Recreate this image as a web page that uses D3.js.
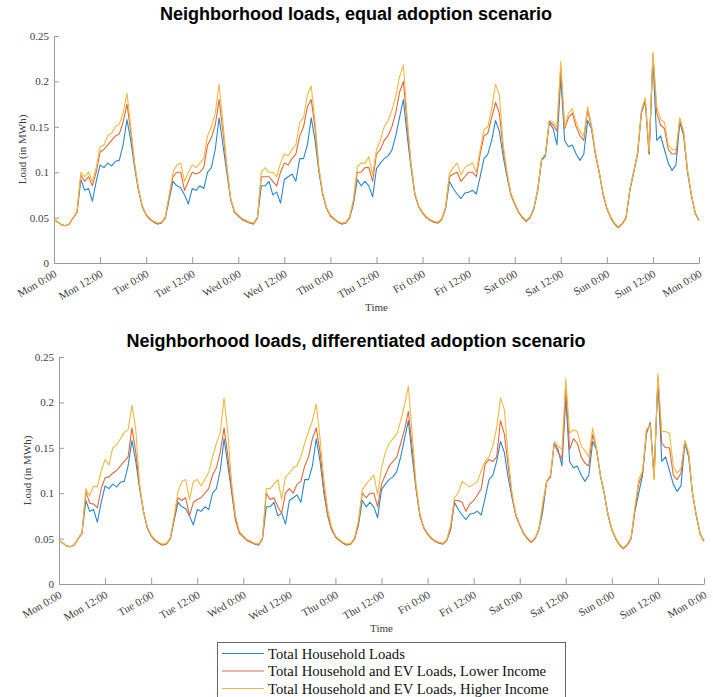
<!DOCTYPE html>
<html>
<head>
<meta charset="utf-8">
<script src="https://cdn.jsdelivr.net/npm/d3@7"></script>
<style>
  body { margin: 0; background: #fff; }
  .axis path, .axis line { stroke: #9a9a9a; }
  .axis text { font-family: 'Liberation Serif', 'Times New Roman', serif; font-size: 11px; fill: #404040; }
  .chart-title { font-family: 'Liberation Sans', Arial, sans-serif; font-size: 18px; font-weight: bold; fill: #000; }
  .axis-label { font-family: 'Liberation Serif', 'Times New Roman', serif; font-size: 11px; fill: #404040; }
  .legend text { font-family: 'Liberation Serif', 'Times New Roman', serif; font-size: 14.7px; fill: #111; }
</style>
</head>
<body>
<svg id="chart" width="713" height="697"></svg>
<script>
// x tick labels, one every 12 hours
const tickLabels = ['Mon 0:00', 'Mon 12:00', 'Tue 0:00', 'Tue 12:00', 'Wed 0:00', 'Wed 12:00', 'Thu 0:00',
  'Thu 12:00', 'Fri 0:00', 'Fri 12:00', 'Sat 0:00', 'Sat 12:00', 'Sun 0:00', 'Sun 12:00', 'Mon 0:00'];
const yTicks = [0, 0.05, 0.1, 0.15, 0.2, 0.25];
const seriesNames = ['Total Household Loads', 'Total Household and EV Loads, Lower Income',
  'Total Household and EV Loads, Higher Income'];

// hourly loads in MWh, Mon 0:00 .. next Mon 0:00 (169 values)
const householdLoad = [
  0.048, 0.045, 0.042, 0.041, 0.043, 0.050, 0.056, 0.092, 0.080, 0.082, 0.068, 0.090,
  0.108, 0.105, 0.110, 0.107, 0.112, 0.113, 0.130, 0.158, 0.135, 0.105, 0.080, 0.062,
  0.053, 0.048, 0.045, 0.043, 0.044, 0.050, 0.070, 0.090, 0.085, 0.083, 0.075, 0.065,
  0.082, 0.080, 0.085, 0.082, 0.100, 0.105, 0.125, 0.160, 0.130, 0.100, 0.070, 0.056,
  0.052, 0.048, 0.046, 0.044, 0.043, 0.050, 0.085, 0.085, 0.090, 0.075, 0.078, 0.066,
  0.092, 0.095, 0.098, 0.090, 0.115, 0.115, 0.130, 0.160, 0.135, 0.100, 0.075, 0.060,
  0.052, 0.048, 0.045, 0.043, 0.044, 0.050, 0.065, 0.092, 0.085, 0.090, 0.085, 0.073,
  0.104, 0.110, 0.115, 0.118, 0.124, 0.140, 0.160, 0.180, 0.140, 0.105, 0.075, 0.062,
  0.055, 0.050, 0.047, 0.045, 0.044, 0.048, 0.060, 0.090, 0.082, 0.076, 0.071, 0.077,
  0.078, 0.080, 0.076, 0.095, 0.115, 0.120, 0.135, 0.157, 0.145, 0.117, 0.095, 0.075,
  0.065, 0.056, 0.050, 0.046, 0.050, 0.060, 0.080, 0.113, 0.118, 0.155, 0.148, 0.130,
  0.205, 0.135, 0.128, 0.130, 0.120, 0.113, 0.120, 0.157, 0.148, 0.120, 0.100, 0.076,
  0.060, 0.050, 0.043, 0.039, 0.043, 0.050, 0.080, 0.100, 0.120, 0.165, 0.178, 0.120,
  0.225, 0.135, 0.140, 0.125, 0.110, 0.102, 0.108, 0.155, 0.140, 0.100, 0.075, 0.055,
  0.047
];

// equal adoption scenario
const evLowerEqual = [
  0.048, 0.045, 0.042, 0.041, 0.043, 0.050, 0.056, 0.097, 0.090, 0.095, 0.085, 0.100,
  0.122, 0.125, 0.130, 0.135, 0.140, 0.142, 0.155, 0.175, 0.145, 0.108, 0.081, 0.062,
  0.053, 0.048, 0.045, 0.043, 0.044, 0.050, 0.073, 0.095, 0.100, 0.100, 0.080, 0.090,
  0.100, 0.098, 0.100, 0.105, 0.130, 0.138, 0.152, 0.180, 0.145, 0.105, 0.071, 0.056,
  0.052, 0.048, 0.046, 0.044, 0.043, 0.050, 0.095, 0.095, 0.095, 0.090, 0.085, 0.100,
  0.110, 0.108, 0.115, 0.120, 0.140, 0.150, 0.172, 0.180, 0.148, 0.103, 0.076, 0.060,
  0.052, 0.048, 0.045, 0.043, 0.044, 0.050, 0.068, 0.100, 0.100, 0.105, 0.105, 0.090,
  0.120, 0.125, 0.135, 0.140, 0.150, 0.165, 0.188, 0.200, 0.152, 0.108, 0.076, 0.062,
  0.055, 0.050, 0.047, 0.045, 0.044, 0.048, 0.061, 0.095, 0.098, 0.100, 0.090, 0.095,
  0.100, 0.100, 0.095, 0.120, 0.140, 0.143, 0.160, 0.177, 0.165, 0.125, 0.098, 0.076,
  0.065, 0.056, 0.050, 0.046, 0.050, 0.060, 0.081, 0.114, 0.120, 0.156, 0.152, 0.145,
  0.215, 0.148, 0.160, 0.165, 0.150, 0.140, 0.135, 0.168, 0.150, 0.121, 0.100, 0.076,
  0.060, 0.050, 0.043, 0.039, 0.043, 0.050, 0.081, 0.100, 0.121, 0.167, 0.180, 0.120,
  0.230, 0.165, 0.152, 0.148, 0.125, 0.120, 0.120, 0.158, 0.143, 0.102, 0.075, 0.055,
  0.047
];
const evHigherEqual = [
  0.048, 0.045, 0.042, 0.041, 0.043, 0.050, 0.057, 0.100, 0.095, 0.100, 0.090, 0.105,
  0.128, 0.130, 0.140, 0.143, 0.150, 0.153, 0.165, 0.187, 0.150, 0.110, 0.082, 0.063,
  0.054, 0.049, 0.046, 0.044, 0.045, 0.051, 0.075, 0.100, 0.108, 0.110, 0.090, 0.100,
  0.108, 0.105, 0.110, 0.115, 0.140, 0.150, 0.165, 0.197, 0.155, 0.108, 0.072, 0.057,
  0.053, 0.049, 0.047, 0.045, 0.044, 0.051, 0.100, 0.105, 0.100, 0.100, 0.095, 0.110,
  0.120, 0.118, 0.125, 0.130, 0.155, 0.160, 0.185, 0.195, 0.155, 0.105, 0.077, 0.061,
  0.053, 0.049, 0.046, 0.044, 0.045, 0.051, 0.070, 0.106, 0.110, 0.110, 0.117, 0.097,
  0.125, 0.135, 0.150, 0.157, 0.168, 0.183, 0.205, 0.218, 0.160, 0.110, 0.077, 0.063,
  0.056, 0.051, 0.048, 0.046, 0.045, 0.049, 0.062, 0.099, 0.105, 0.110, 0.097, 0.105,
  0.108, 0.110, 0.100, 0.125, 0.147, 0.150, 0.170, 0.197, 0.185, 0.130, 0.100, 0.077,
  0.066, 0.057, 0.051, 0.047, 0.051, 0.061, 0.082, 0.115, 0.120, 0.157, 0.155, 0.150,
  0.222, 0.150, 0.165, 0.170, 0.155, 0.145, 0.140, 0.172, 0.152, 0.122, 0.101, 0.077,
  0.061, 0.051, 0.044, 0.040, 0.044, 0.051, 0.082, 0.101, 0.122, 0.168, 0.182, 0.123,
  0.232, 0.172, 0.158, 0.155, 0.130, 0.125, 0.125, 0.160, 0.145, 0.103, 0.076, 0.056,
  0.048
];

// differentiated adoption scenario
const evLowerDiff = [
  0.048, 0.045, 0.042, 0.041, 0.043, 0.050, 0.056, 0.102, 0.089, 0.088, 0.084, 0.105,
  0.117, 0.118, 0.122, 0.125, 0.130, 0.135, 0.140, 0.172, 0.145, 0.107, 0.080, 0.062,
  0.053, 0.048, 0.045, 0.043, 0.044, 0.050, 0.072, 0.095, 0.092, 0.095, 0.075, 0.090,
  0.093, 0.095, 0.100, 0.105, 0.120, 0.128, 0.145, 0.172, 0.140, 0.103, 0.070, 0.056,
  0.052, 0.048, 0.046, 0.044, 0.043, 0.050, 0.100, 0.093, 0.095, 0.085, 0.078, 0.100,
  0.105, 0.100, 0.110, 0.113, 0.130, 0.140, 0.160, 0.172, 0.145, 0.105, 0.076, 0.060,
  0.052, 0.048, 0.045, 0.043, 0.044, 0.050, 0.067, 0.100, 0.095, 0.100, 0.100, 0.085,
  0.110, 0.120, 0.130, 0.135, 0.140, 0.155, 0.170, 0.190, 0.150, 0.105, 0.076, 0.062,
  0.055, 0.050, 0.047, 0.045, 0.044, 0.048, 0.061, 0.092, 0.092, 0.090, 0.080, 0.088,
  0.092, 0.098, 0.105, 0.132, 0.137, 0.135, 0.140, 0.180, 0.165, 0.130, 0.097, 0.076,
  0.065, 0.056, 0.050, 0.046, 0.050, 0.060, 0.085, 0.112, 0.118, 0.155, 0.145, 0.138,
  0.215, 0.148, 0.160, 0.155, 0.140, 0.133, 0.130, 0.165, 0.148, 0.120, 0.100, 0.076,
  0.060, 0.050, 0.043, 0.039, 0.043, 0.050, 0.082, 0.110, 0.122, 0.168, 0.176, 0.116,
  0.228, 0.155, 0.150, 0.150, 0.120, 0.115, 0.122, 0.157, 0.143, 0.100, 0.075, 0.055,
  0.047
];
const evHigherDiff = [
  0.048, 0.045, 0.042, 0.041, 0.043, 0.050, 0.057, 0.105, 0.097, 0.108, 0.107, 0.125,
  0.137, 0.131, 0.150, 0.153, 0.160, 0.167, 0.170, 0.197, 0.170, 0.110, 0.080, 0.063,
  0.054, 0.049, 0.046, 0.044, 0.045, 0.051, 0.075, 0.102, 0.113, 0.115, 0.093, 0.113,
  0.115, 0.108, 0.115, 0.123, 0.140, 0.155, 0.167, 0.205, 0.165, 0.110, 0.075, 0.058,
  0.053, 0.049, 0.047, 0.045, 0.044, 0.051, 0.105, 0.105, 0.110, 0.115, 0.093, 0.118,
  0.122, 0.128, 0.130, 0.140, 0.155, 0.168, 0.180, 0.198, 0.160, 0.115, 0.082, 0.063,
  0.053, 0.049, 0.046, 0.044, 0.045, 0.051, 0.070, 0.104, 0.110, 0.115, 0.120, 0.098,
  0.128, 0.145, 0.155, 0.160, 0.165, 0.180, 0.197, 0.218, 0.165, 0.110, 0.078, 0.063,
  0.056, 0.051, 0.048, 0.046, 0.045, 0.049, 0.065, 0.095, 0.100, 0.113, 0.110, 0.107,
  0.110, 0.113, 0.125, 0.135, 0.140, 0.152, 0.172, 0.205, 0.192, 0.140, 0.100, 0.077,
  0.066, 0.057, 0.051, 0.047, 0.051, 0.061, 0.090, 0.113, 0.120, 0.157, 0.152, 0.148,
  0.226, 0.166, 0.170, 0.168, 0.152, 0.147, 0.140, 0.172, 0.150, 0.120, 0.101, 0.077,
  0.061, 0.051, 0.044, 0.040, 0.044, 0.051, 0.085, 0.115, 0.125, 0.170, 0.175, 0.115,
  0.232, 0.168, 0.168, 0.166, 0.130, 0.122, 0.127, 0.158, 0.145, 0.100, 0.076, 0.056,
  0.048
];

const lineColors = ['#2c86cc', '#df6a3c', '#efb943']; // blue, orange, yellow

class LoadChart {
  constructor(_config, _data) {
    this.config = _config;
    this.data = _data; // array of series (arrays of hourly values)
    this.initVis();
  }

  initVis() {
    let vis = this;

    vis.width = vis.config.width;
    vis.height = vis.config.height;

    vis.svg = d3.select(vis.config.parentElement)
      .append('g')
      .attr('transform', `translate(${vis.config.left},${vis.config.top})`);

    vis.xScale = d3.scaleLinear().domain([0, (tickLabels.length - 1) * 12]).range([0, vis.width]);
    vis.yScale = d3.scaleLinear().domain([0, 0.25]).range([vis.height, 0]);

    vis.xAxis = vis.svg.append('g')
      .attr('class', 'axis x-axis')
      .attr('transform', `translate(0,${vis.height})`);
    vis.yAxis = vis.svg.append('g').attr('class', 'axis y-axis');

    // title
    vis.svg.append('text')
      .attr('class', 'chart-title')
      .attr('x', vis.config.titleX - vis.config.left)
      .attr('y', vis.config.titleY - vis.config.top)
      .attr('text-anchor', 'middle')
      .text(vis.config.title);

    vis.svg.append('text')
      .attr('class', 'axis-label')
      .attr('x', vis.width / 2)
      .attr('y', vis.height + 48)
      .attr('text-anchor', 'middle')
      .text('Time');

    vis.svg.append('text')
      .attr('class', 'axis-label')
      .attr('x', -vis.height / 2)
      .attr('y', -28)
      .attr('text-anchor', 'middle')
      .attr('transform', 'rotate(-90)')
      .text('Load (in MWh)');

    vis.updateVis();
  }

  updateVis() {
    let vis = this;

    vis.xAxis.call(d3.axisBottom(vis.xScale)
      .tickValues(tickLabels.map((d, i) => i * 12))
      .tickFormat((d, i) => tickLabels[i])
      .tickSizeInner(-6)
      .tickSizeOuter(0));
    vis.xAxis.selectAll('text')
      .attr('x', 0)
      .attr('y', 0)
      .attr('dy', 0)
      .attr('text-anchor', 'end')
      .attr('transform', 'translate(3,13) rotate(-30)');

    vis.yAxis.call(d3.axisLeft(vis.yScale)
      .tickValues(yTicks)
      .tickFormat(d => String(d))
      .tickSizeInner(-5)
      .tickSizeOuter(0)
      .tickPadding(5));

    const line = d3.line()
      .x((d, i) => vis.xScale(i))
      .y(d => vis.yScale(d));

    vis.svg.selectAll('.load-line')
      .data(vis.data)
      .join('path')
      .attr('class', 'load-line')
      .attr('fill', 'none')
      .attr('stroke', (d, i) => lineColors[i])
      .attr('stroke-width', 1.1)
      .attr('stroke-linejoin', 'round')
      .attr('d', line);
  }
}

new LoadChart({
  parentElement: '#chart',
  title: 'Neighborhood loads, equal adoption scenario',
  left: 54, top: 36, width: 645, height: 227,
  titleX: 356, titleY: 20
}, [householdLoad, evLowerEqual, evHigherEqual]);

new LoadChart({
  parentElement: '#chart',
  title: 'Neighborhood loads, differentiated adoption scenario',
  left: 59, top: 357, width: 645, height: 227,
  titleX: 356, titleY: 346.5
}, [householdLoad, evLowerDiff, evHigherDiff]);

// legend
const legend = d3.select('#chart').append('g').attr('class', 'legend');
legend.append('rect')
  .attr('x', 217.5).attr('y', 642.5)
  .attr('width', 348).attr('height', 60)
  .attr('fill', '#fff').attr('stroke', '#666');
seriesNames.forEach((name, i) => {
  const y = 653.5 + i * 17.5;
  legend.append('line')
    .attr('x1', 222).attr('x2', 264)
    .attr('y1', y).attr('y2', y)
    .attr('stroke', lineColors[i]).attr('stroke-width', 1.1);
  legend.append('text')
    .attr('x', 268).attr('y', y + 5)
    .text(name);
});
</script>
</body>
</html>
